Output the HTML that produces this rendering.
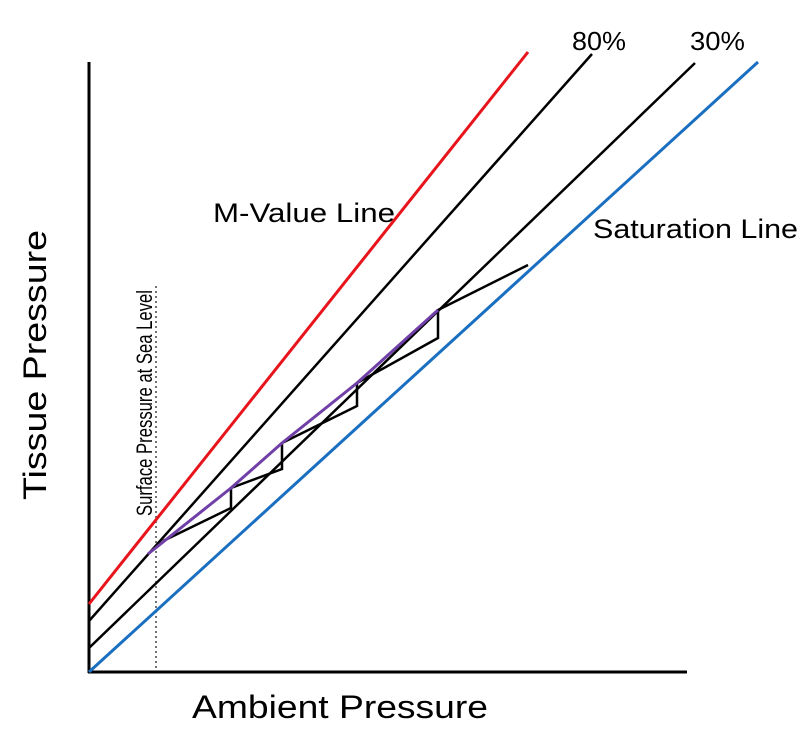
<!DOCTYPE html>
<html><head><style>body{margin:0;background:#fff}svg{display:block}</style></head>
<body>
<svg width="800" height="737" viewBox="0 0 800 737" xmlns="http://www.w3.org/2000/svg" font-family="Liberation Sans, Arial, sans-serif">
<rect width="800" height="737" fill="#fff"/>
<line x1="89" y1="62" x2="89" y2="673" stroke="#000" stroke-width="3"/>
<line x1="88" y1="672" x2="687" y2="672" stroke="#000" stroke-width="3"/>
<line x1="156" y1="668" x2="156" y2="285" stroke="#444" stroke-width="1.5" stroke-dasharray="2,3"/>
<line x1="89" y1="604" x2="528" y2="52" stroke="#e8141c" stroke-width="3"/>
<line x1="89" y1="621" x2="592" y2="54" stroke="#000" stroke-width="2.5"/>
<line x1="89" y1="648" x2="695" y2="63" stroke="#000" stroke-width="2.5"/>
<line x1="89" y1="672" x2="758" y2="62" stroke="#1a6fc0" stroke-width="3"/>
<polyline points="163,541 231,508 231,488 282,469 282,443 357,406 357,383 438,338 438,310 528,265" fill="none" stroke="#000" stroke-width="2.5"/>
<polyline points="148,554 231,488 282,443 357,383 438,310" fill="none" stroke="#7040a8" stroke-width="3"/>
<text x="572" y="50" font-size="26" textLength="54" lengthAdjust="spacingAndGlyphs">80%</text>
<text x="690" y="50" font-size="26" textLength="55" lengthAdjust="spacingAndGlyphs">30%</text>
<text x="213" y="222" font-size="27" textLength="182" lengthAdjust="spacingAndGlyphs">M-Value Line</text>
<text x="593" y="238" font-size="27" textLength="205" lengthAdjust="spacingAndGlyphs">Saturation Line</text>
<text x="192" y="718" font-size="32" textLength="296" lengthAdjust="spacingAndGlyphs">Ambient Pressure</text>
<text transform="translate(46,500) rotate(-90)" font-size="32" textLength="270" lengthAdjust="spacingAndGlyphs">Tissue Pressure</text>
<text transform="translate(152,516) rotate(-90)" font-size="22" textLength="226" lengthAdjust="spacingAndGlyphs">Surface Pressure at Sea Level</text>
</svg>
</body></html>
